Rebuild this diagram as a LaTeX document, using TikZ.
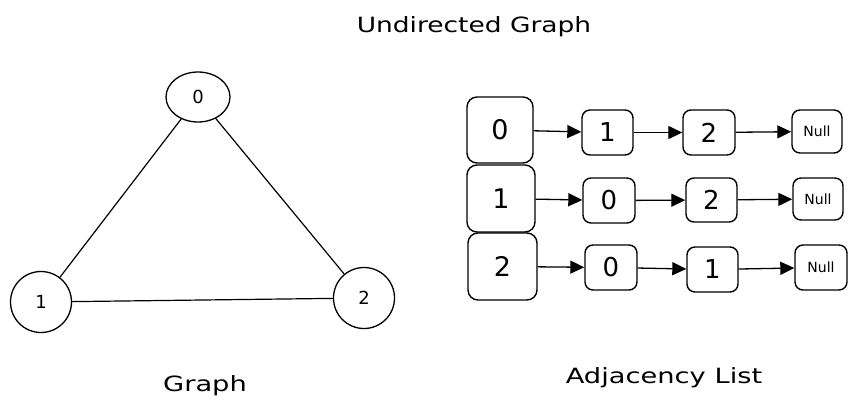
\documentclass[tikz,border=0pt]{standalone}
\usepackage{fontspec}
\setmainfont{DejaVu Sans}
\usetikzlibrary{arrows.meta,shapes.geometric}
\tikzset{
  headbox/.style={draw, rounded corners=10pt, line width=1.4pt, minimum width=66pt, minimum height=66pt, inner sep=0pt, font=\fontsize{27}{27}\selectfont},
  cellbox/.style={draw, rounded corners=8pt, line width=1.4pt, minimum width=51pt, minimum height=45pt, inner sep=0pt, font=\fontsize{26}{26}\selectfont},
  nullbox/.style={cellbox, minimum width=50pt, minimum height=43pt, font=\fontsize{14}{14}\selectfont},
  gnode/.style={draw, circle, line width=1.3pt, minimum size=61pt, inner sep=0pt, font=\fontsize{18}{18}\selectfont},
  link/.style={-{Triangle[length=14pt,width=13pt]}, line width=1.3pt},
  gedge/.style={line width=1.2pt},
  title/.style={font=\fontsize{21}{21}\selectfont, anchor=base, inner sep=0pt}
}
\begin{document}
\begin{tikzpicture}[x=1pt,y=-1pt]
\useasboundingbox (0,0) rectangle (856,410);
% titles
\node[title] (ttl) at (474,32) {\scalebox{1.26}[1]{Undirected Graph}};
\node[title] (tg) at (205,391) {\scalebox{1.3}[1]{Graph}};
\node[title] (ta) at (664,383) {\scalebox{1.3}[1]{Adjacency List}};
% graph
\node[gnode, ellipse, minimum width=64pt, minimum height=50pt] (g0) at (198,97) {0};
\node[gnode] (g1) at (41,302) {1};
\node[gnode] (g2) at (364,298) {2};
\draw[gedge] (g0) -- (g1);
\draw[gedge] (g0) -- (g2);
\draw[gedge] (g1) -- (g2);
% adjacency list row 1
\node[headbox] (h0) at (500,130) {0};
\node[cellbox] (a1) at (607.5,132.5) {1};
\node[cellbox, minimum width=52pt] (a2) at (709,132.5) {2};
\node[nullbox] (an) at (817,131.5) {Null};
\draw[link] (h0) -- (a1);
\draw[link] (a1) -- (a2);
\draw[link] (a2) -- (an);
% row 2
\node[headbox, minimum width=68pt, minimum height=67pt] (h1) at (501,198.5) {1};
\node[cellbox, minimum width=52pt] (b0) at (609,200.5) {0};
\node[cellbox, minimum height=44pt] (b2) at (711.5,200) {2};
\node[nullbox, minimum height=42pt] (bn) at (818,199) {Null};
\draw[link] (h1) -- (b0);
\draw[link] (b0) -- (b2);
\draw[link] (b2) -- (bn);
% row 3
\node[headbox, minimum width=69pt, minimum height=67pt] (h2) at (502.5,266.5) {2};
\node[cellbox, minimum width=52pt] (c0) at (611,267.5) {0};
\node[cellbox] (c1) at (712.5,269.5) {1};
\node[nullbox, minimum width=52pt, minimum height=45pt] (cn) at (821,267.5) {Null};
\draw[link] (h2) -- (c0);
\draw[link] (c0) -- (c1);
\draw[link] (c1) -- (cn);
\end{tikzpicture}
\end{document}
